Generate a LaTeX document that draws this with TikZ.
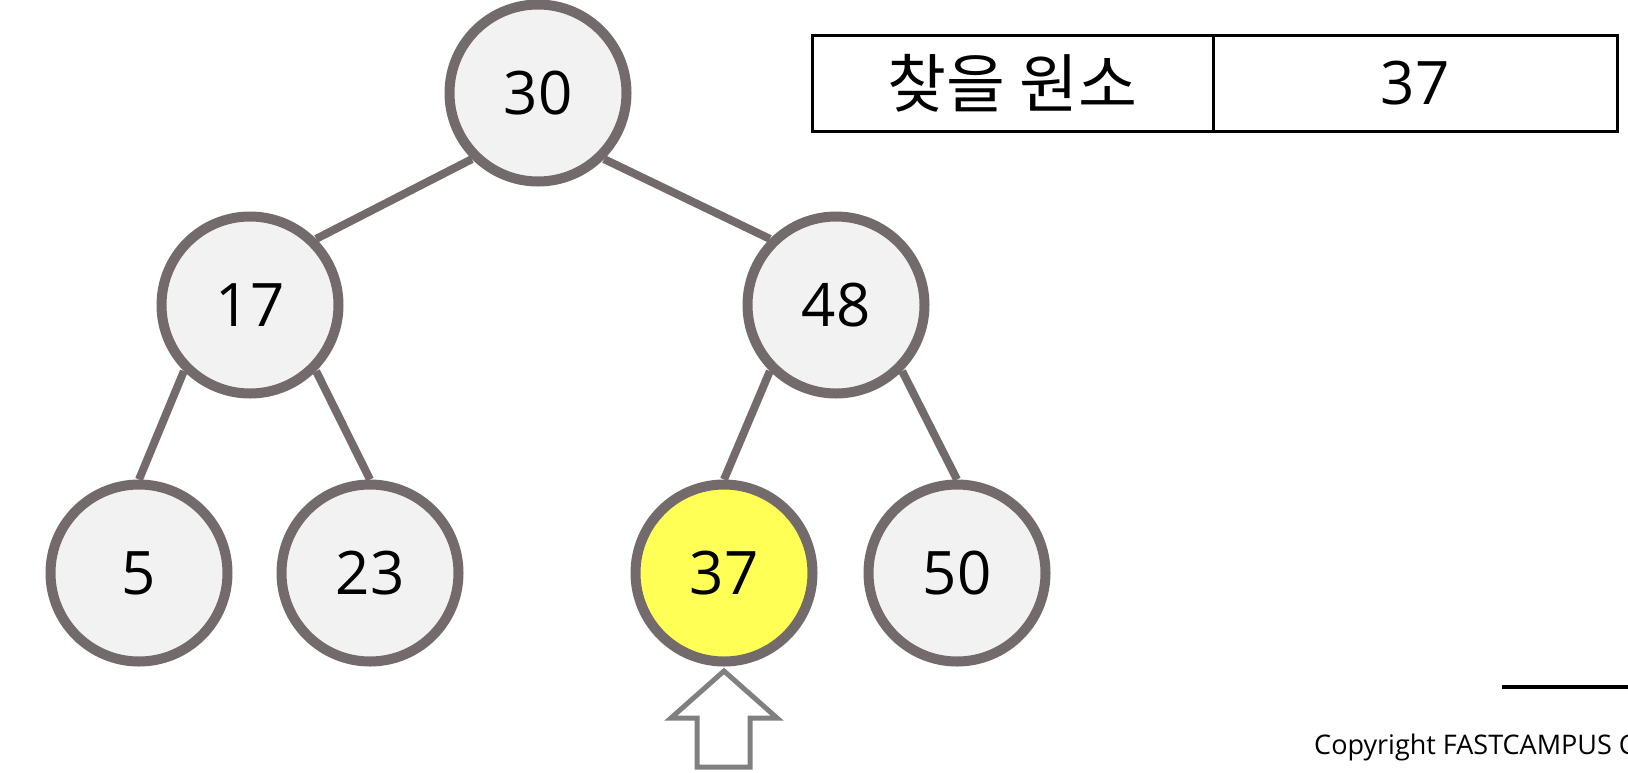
\documentclass[tikz,border=0pt]{standalone}
\usepackage{fontspec}
\setmainfont{Open Sans}
\newfontfamily\krfont{Noto Sans CJK KR}
\usetikzlibrary{positioning}
\definecolor{nodeline}{HTML}{736B6B}
\definecolor{nodefill}{HTML}{F2F2F2}
\definecolor{hitfill}{HTML}{FFFF55}
\definecolor{arrowgray}{HTML}{808080}

\begin{document}
\begin{tikzpicture}[x=1pt, y=-1pt,
    tnode/.style={draw=nodeline, fill=nodefill, circle, line width=10pt,
                  minimum size=177pt, inner sep=0pt,
                  font=\fontsize{60}{60}\selectfont},
    found/.style={tnode, fill=hitfill},
    edge/.style={draw=nodeline, line width=8pt},
    cell/.style={draw=black, line width=3pt, minimum height=96pt,
                 inner sep=0pt, outer sep=0pt,
                 font=\fontsize{60}{60}\selectfont}
  ]
  \clip (0,0) rectangle (1628,772);

  % Baum
  \node[tnode] (n30) at (538,93) {30};
  \node[tnode] (n17) at (250,305) {17};
  \node[tnode] (n48) at (836,305) {48};
  \node[tnode] (n5)  at (139,573) {5};
  \node[tnode] (n23) at (370,573) {23};
  \node[found] (n37) at (724,573) {37};
  \node[tnode] (n50) at (957,573) {50};

  % Kanten
  \draw[edge] (n30.225) -- (n17.45);
  \draw[edge] (n30.-45) -- (n48.135);
  \foreach \a/\b in {n17/n5, n48/n37}
    \draw[edge] (\a.225) -- (\b.north);
  \foreach \a/\b in {n17/n23, n48/n50}
    \draw[edge] (\a.-45) -- (\b.north);

  % Tabelle
  \node[cell, minimum width=401pt] (keycell) at (1012.5,83)
    {\krfont\fontsize{64}{64}\selectfont 찾을 원소};
  \node[cell, minimum width=404pt, right=0pt of keycell] (valcell) {37};

  % Pfeil
  \draw[arrowgray, line width=5pt, fill=white]
    (724,671) -- (777,718) -- (750,718) -- (750,767)
    -- (697,767) -- (697,718) -- (671,718) -- cycle;

  % Fusszeile
  \draw[line width=4pt] (1502,687) -- (1628,687);
  \node[anchor=base west, inner sep=0pt, font=\fontsize{27}{27}\selectfont]
    (copy) at (1314,754) {Copyright FASTCAMPUS C};
\end{tikzpicture}
\end{document}
